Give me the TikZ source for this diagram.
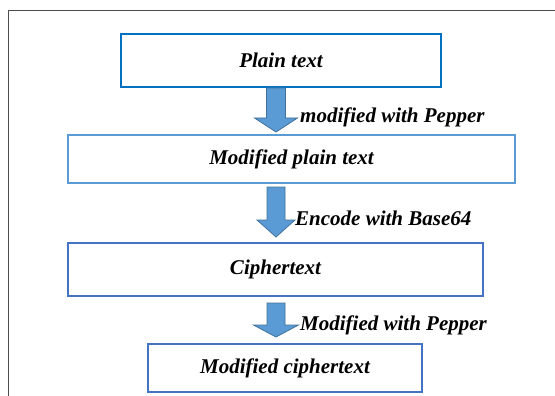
\documentclass[tikz,border=0pt]{standalone}
\usepackage{fontspec}
\setmainfont{Liberation Serif}
\usepackage{tikz}
\usetikzlibrary{calc}
\definecolor{boxblue}{RGB}{0,112,192}
\definecolor{lightblue}{RGB}{91,155,213}
\definecolor{midblue}{RGB}{68,114,196}
\definecolor{arrowedge}{RGB}{65,113,156}
\tikzset{
	stagebox/.style={draw, line width=2pt, fill=white, inner sep=0pt, font=\fontsize{21}{25}\selectfont\bfseries\itshape},
	steplabel/.style={anchor=west, inner sep=0pt, font=\fontsize{21}{25}\selectfont\bfseries\itshape},
	blockarrow/.style={fill=lightblue, draw=arrowedge, line width=0.8pt, line join=miter}
}
% block arrow: (top centre)(half shaft:half head:shaft length:total length)
\def\blockarr(#1)(#2:#3:#4:#5){\filldraw[blockarrow] ($(#1)+(-#2,0)$) -- ($(#1)+(-#2,#4)$) -- ($(#1)+(-#3,#4)$) -- ($(#1)+(0,#5)$) -- ($(#1)+(#3,#4)$) -- ($(#1)+(#2,#4)$) -- ($(#1)+(#2,0)$) -- cycle;}

\begin{document}
\begin{tikzpicture}[x=1pt, y=-1pt]
			%%%%% START %%%%%
			\useasboundingbox (0, 0) rectangle (555, 396);
			
			\draw[line width=0.8pt, color=black!70] (8, 396) -- (8, 10) -- (555, 10);
			
			\node[stagebox, draw=boxblue, minimum width=320pt, minimum height=53pt] (plain) at (281, 60.5) {Plain text};
			\node[stagebox, draw=lightblue, minimum width=447pt, minimum height=48pt] (modplain) at (291.5, 159) {Modified plain text};
			\node[stagebox, draw=midblue, minimum width=415pt, minimum height=53pt] (cipher) at (275.5, 269.5) {Ciphertext};
			\node[stagebox, draw=midblue, minimum width=274pt, minimum height=48pt] (modcipher) at (285, 368) {Modified ciphertext};
			
			\coordinate (arrA) at (276, 88);
			\coordinate (arrB) at (276, 187);
			\coordinate (arrC) at (276, 303);
			
			\blockarr(arrA)(9.5:21.5:30:44)
			\blockarr(arrB)(9:19:33:50)
			\blockarr(arrC)(9:22.5:22:34)
			
			\node[steplabel] (pepperA) at (300, 117) {modified with Pepper};
			\node[steplabel] (base64) at (295, 218) {Encode with Base64};
			\node[steplabel] (pepperB) at (300, 325) {Modified with Pepper};
			
			%%%%% END %%%%%
		\end{tikzpicture}
\end{document}
